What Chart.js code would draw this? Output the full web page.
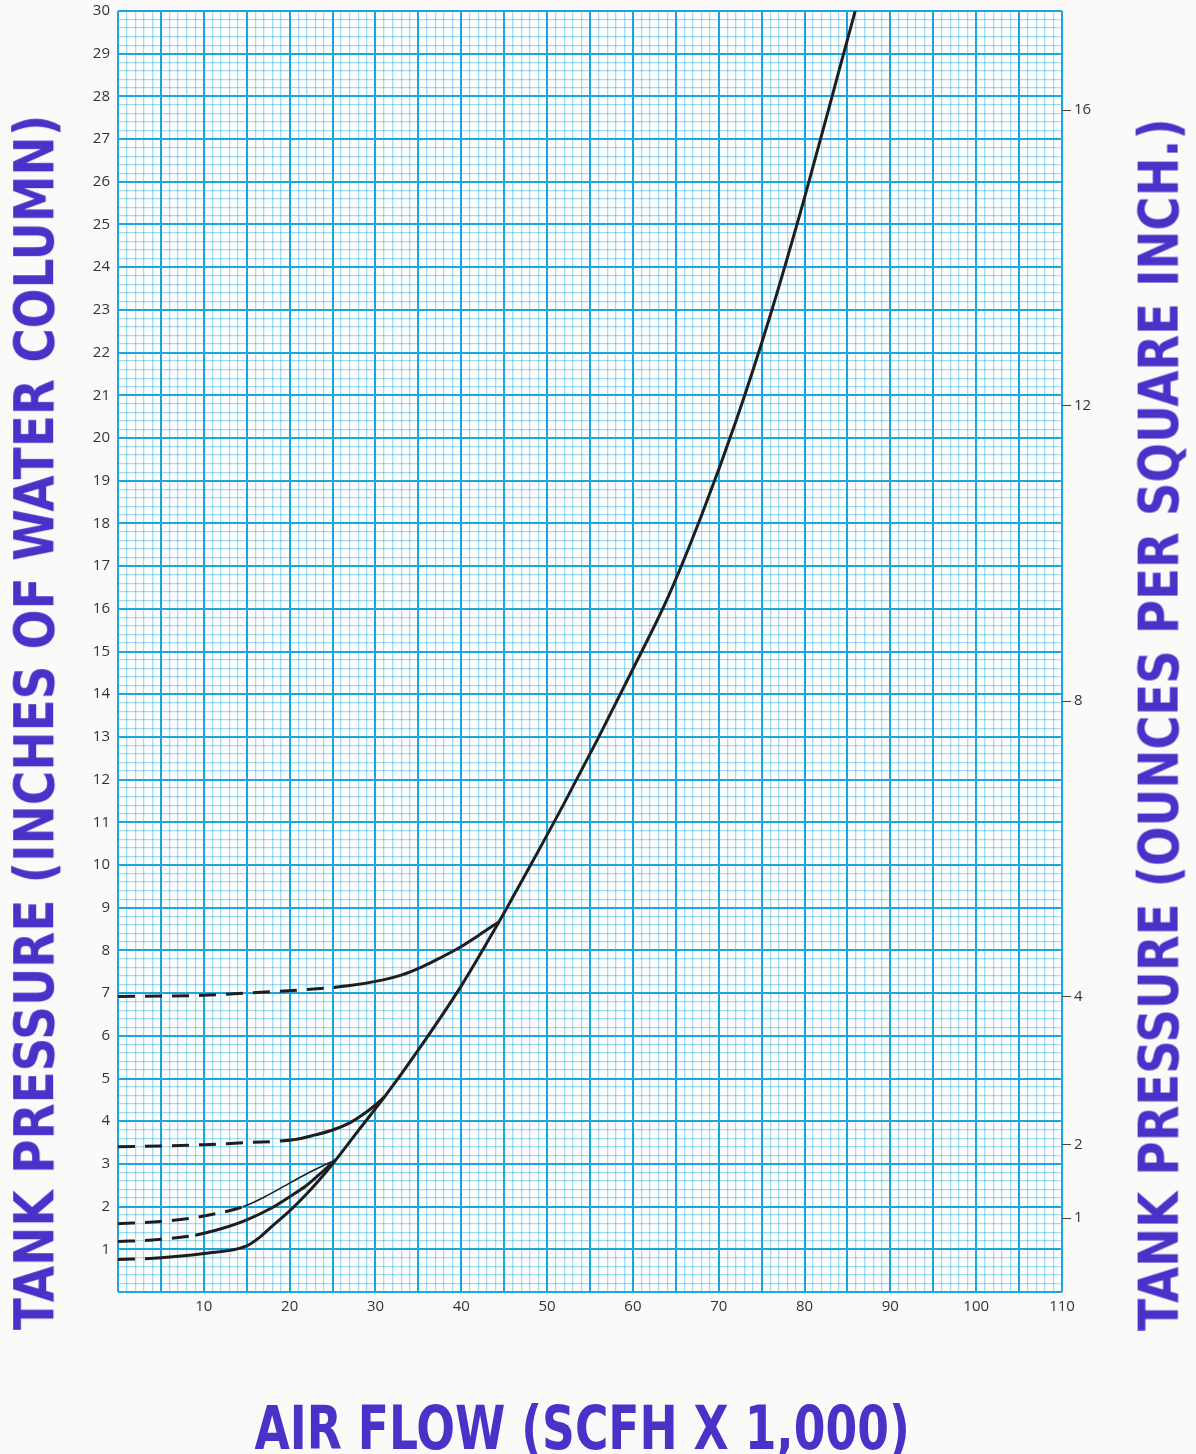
<!DOCTYPE html>
<html>
<head>
<title>Tank pressure vs air flow</title>
<script src="https://cdn.jsdelivr.net/npm/chart.js"></script>
<style>
  html, body { margin: 0; padding: 0; background: #fbfaf8; }
  #wrap { position: relative; width: 1196px; height: 1454px; overflow: hidden; }
  #chart { position: absolute; left: 0; top: 0; }
  .ttl {
    position: absolute; white-space: nowrap; line-height: 1;
    font-family: "Liberation Sans Narrow", "DejaVu Sans Condensed", "Roboto", sans-serif;
    font-weight: bold; color: #4a32c8; transform-origin: center center;
  }
</style>
</head>
<body>
<div id="wrap">
  <canvas id="chart" width="1196" height="1454"></canvas>
  <div class="ttl" id="ttlLeft" style="font-size:55px">TANK PRESSURE (INCHES OF WATER COLUMN)</div>
  <div class="ttl" id="ttlRight" style="font-size:55px">TANK PRESSURE (OUNCES PER SQUARE INCH.)</div>
  <div class="ttl" id="ttlBottom" style="font-size:61px">AIR FLOW (SCFH X 1,000)</div>
</div>
<script>
// curves: air flow (x 1000 scfh) / pressure (in. w.c.)
var mainX = [0, 5, 10, 15, 16.5, 18, 20, 22, 24, 25.4, 28, 31.1, 35, 40, 44.4, 48, 52, 56, 60, 64, 68, 72, 76, 80, 84, 85.9];
var mainY = [0.76, 0.8, 0.9, 1.08, 1.28, 1.55, 1.9, 2.3, 2.75, 3.1, 3.78, 4.58, 5.67, 7.17, 8.67, 9.97, 11.45, 12.99, 14.59, 16.23, 18.19, 20.39, 22.87, 25.63, 28.59, 30];
var lowX = [0, 4, 9, 12, 15, 18, 20, 22, 24, 25.4];
var lowY = [1.18, 1.22, 1.33, 1.48, 1.69, 1.98, 2.23, 2.5, 2.85, 3.1];
var thinX = [0, 5, 10, 14.6, 17, 20, 22.5, 25.4];
var thinY = [1.6, 1.65, 1.78, 2.0, 2.22, 2.55, 2.82, 3.1];
var midX = [0, 5, 10, 15, 20.6, 23, 25.1, 27, 28.5, 30, 31.1];
var midY = [3.4, 3.42, 3.45, 3.5, 3.57, 3.68, 3.8, 3.96, 4.15, 4.38, 4.58];
var highX = [0, 5, 10, 15, 21, 26.8, 30.9, 33, 35.5, 37.5, 39.9, 42, 44.4];
var highY = [6.92, 6.93, 6.95, 7.0, 7.07, 7.17, 7.31, 7.42, 7.62, 7.82, 8.08, 8.35, 8.67];
// x where each curve stops being dashed
var dashEnds = [5, 9, 14.6, 20.6, 26.8];
var lineWidths = [3, 3, 1.6, 3, 3];

var xLabels = [10, 20, 30, 40, 50, 60, 70, 80, 90, 100, 110];
var ozTicks = [1, 2, 4, 8, 12, 16];
var OZ_PER_INCH = 0.5781;

var MAJOR = '#1aa6e0';
var MINOR = 'rgba(26,166,224,0.4)';
var INK = '#1e1e1e';

function pts(xs, ys) {
    return xs.map(function(x, i) { return { x: x, y: ys[i] }; });
}

function curve(xs, ys, i) {
    var end = dashEnds[i];
    function dashed(c) { return c.p1.parsed.x <= end + 1e-9; }
    return {
        data: pts(xs, ys),
        showLine: true,
        borderColor: INK,
        borderWidth: lineWidths[i],
        pointRadius: 0,
        cubicInterpolationMode: 'monotone',
        segment: {
            borderDash: function(c) { return dashed(c) ? [17, 10] : undefined; },
            borderWidth: function(c) { return dashed(c) ? 3 : undefined; }
        }
    };
}

function isInt(v) { return Math.abs(v - Math.round(v)) < 1e-6; }

// fixed axis sizes so the plot box sits where it does in the source
function fitY(width) {
    return function(s) {
        s.width = width;
        s.paddingTop = 0;
        s.paddingBottom = 0;
    };
}

var plotBg = {
    id: 'plotBg',
    beforeDraw: function(chart) {
        var a = chart.chartArea, c = chart.ctx;
        c.save();
        c.fillStyle = '#ffffff';
        c.fillRect(a.left, a.top, a.right - a.left, a.bottom - a.top);
        c.restore();
    }
};

var tickFont = { family: '"Open Sans", "Noto Sans", sans-serif', size: 15 };

var chart = new Chart(document.getElementById('chart'), {
    type: 'scatter',
    data: {
        datasets: [
            curve(mainX, mainY, 0),
            curve(lowX, lowY, 1),
            curve(thinX, thinY, 2),
            curve(midX, midY, 3),
            curve(highX, highY, 4)
        ]
    },
    options: {
        responsive: false,
        animation: false,
        layout: { padding: { top: 11, left: 0, right: 0, bottom: 0 } },
        plugins: { legend: { display: false }, tooltip: { enabled: false } },
        scales: {
            x: {
                type: 'linear',
                min: 0,
                max: 110,
                afterFit: function(s) { s.height = 162; s.paddingLeft = 0; s.paddingRight = 0; },
                border: { display: false },
                grid: {
                    drawTicks: false,
                    color: function(c) { return c.tick.value % 5 === 0 ? MAJOR : MINOR; },
                    lineWidth: function(c) { return c.tick.value % 5 === 0 ? 2 : 1.3; }
                },
                ticks: {
                    stepSize: 1,
                    autoSkip: false,
                    maxRotation: 0,
                    padding: 6,
                    color: '#333',
                    font: tickFont,
                    maxTicksLimit: 1000,
                    callback: function(v) { return xLabels.indexOf(v) >= 0 ? String(v) : ''; }
                }
            },
            y: {
                type: 'linear',
                position: 'left',
                min: 0,
                max: 30,
                afterFit: fitY(118),
                border: { display: false },
                grid: {
                    drawTicks: false,
                    color: function(c) { return isInt(c.tick.value) ? MAJOR : MINOR; },
                    lineWidth: function(c) { return isInt(c.tick.value) ? 2 : 1.3; }
                },
                ticks: {
                    stepSize: 0.2,
                    autoSkip: false,
                    padding: 8,
                    color: '#333',
                    font: tickFont,
                    maxTicksLimit: 1000,
                    callback: function(v) { return isInt(v) && Math.round(v) > 0 ? String(Math.round(v)) : ''; }
                }
            },
            y2: {
                type: 'linear',
                position: 'right',
                min: 0,
                max: 30 * OZ_PER_INCH,
                afterFit: fitY(134),
                afterBuildTicks: function(s) { s.ticks = ozTicks.map(function(v) { return { value: v }; }); },
                border: { display: false },
                grid: {
                    drawOnChartArea: false,
                    drawTicks: true,
                    tickLength: 9,
                    color: '#444',
                    lineWidth: 1
                },
                ticks: {
                    autoSkip: false,
                    padding: 3,
                    color: '#333',
                    font: tickFont
                }
            }
        }
    },
    plugins: [plotBg]
});

// big purple axis titles, stretched to the lengths they have in the source
function place(id, cx, cy, len, rot) {
    var el = document.getElementById(id);
    var w = el.offsetWidth, h = el.offsetHeight;
    el.style.left = (cx - w / 2) + 'px';
    el.style.top = (cy - h / 2) + 'px';
    el.style.transform = 'rotate(' + rot + 'deg) scaleX(' + (len / w) + ')';
}
place('ttlLeft', 34, 722, 1215, -90);
place('ttlRight', 1159, 724, 1212, -90);
place('ttlBottom', 582, 1427, 655, 0);
</script>
</body>
</html>
